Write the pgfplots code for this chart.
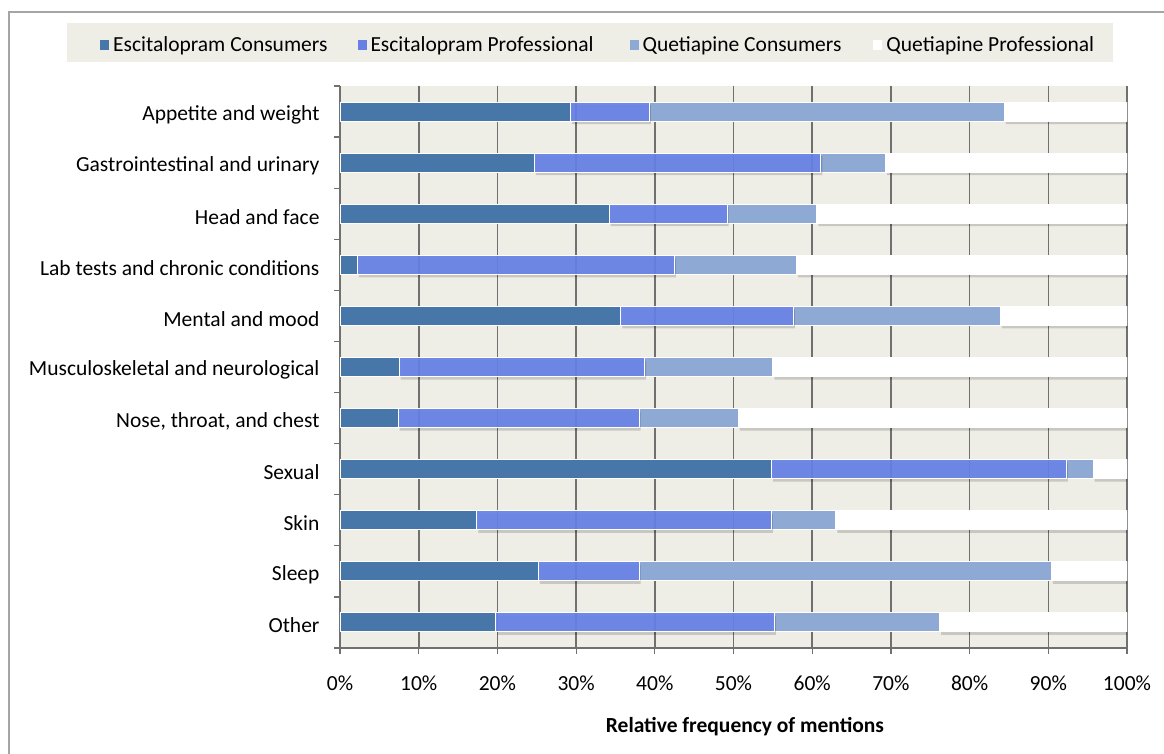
\documentclass[border=0pt]{standalone}
\usepackage{pgfplots}
\usepackage{pgfplotstable}
\pgfplotsset{compat=1.18}
\usepackage{fontspec}
\setmainfont{Carlito}

\definecolor{ecCol}{RGB}{70,119,168}
\definecolor{epCol}{RGB}{102,128,230}
\definecolor{qcCol}{RGB}{142,169,212}
\definecolor{plotbg}{RGB}{239,238,230}
\definecolor{gridCol}{RGB}{112,112,112}
\definecolor{frameCol}{RGB}{165,165,165}

% cumulative boundaries, stored as segment widths (percent)
\pgfplotstableread{
idx ec   ep   qc   qp
0   29.3 10.0 45.1 15.6
1   24.7 36.4 8.2  30.7
2   34.2 15.0 11.4 39.4
3   2.2  40.3 15.5 42.0
4   35.7 21.9 26.3 16.1
5   7.5  31.2 16.3 45.0
6   7.4  30.6 12.6 49.4
7   54.8 37.5 3.4  4.3
8   17.4 37.4 8.2  37.0
9   25.2 12.8 52.4 9.6
10  19.8 35.4 21.0 23.8
}\sidefx

\begin{document}
\begin{tikzpicture}[font=\fontsize{21.5}{25}\selectfont]
\useasboundingbox (0pt,0pt) rectangle (1164pt,754pt);
\fill[white] (0pt,0pt) rectangle (1164pt,754pt);
\draw[frameCol, line width=2pt] (9pt,0pt) -- (9pt,742pt) -- (1170pt,742pt);
\fill[plotbg] (67pt,692pt) rectangle (1113pt,731pt);

\begin{axis}[
    at={(340pt,106pt)}, anchor=south west,
    scale only axis,
    width=787pt, height=562pt,
    xbar stacked,
    bar width=19pt,
    xmin=0, xmax=100,
    ymin=-0.5, ymax=10.5,
    y dir=reverse,
    axis background/.style={fill=plotbg},
    axis x line*=bottom,
    axis y line*=left,
    axis line style={gridCol, line width=1.2pt},
    xtick={0,10,...,100},
    xticklabels={0\%,10\%,20\%,30\%,40\%,50\%,60\%,70\%,80\%,90\%,100\%},
    ytick={0,...,10},
    yticklabels={Appetite and weight, Gastrointestinal and urinary, Head and face,
      Lab tests and chronic conditions, Mental and mood,
      Musculoskeletal and neurological, {Nose, throat, and chest},
      Sexual, Skin, Sleep, Other},
    minor ytick={-0.5,0.5,...,10.5},
    tick align=outside,
    major tick length=6pt,
    minor tick length=6pt,
    x tick style={gridCol, line width=1.2pt},
    ytick style={draw=none},
    minor y tick style={draw=gridCol, line width=1.2pt},
    xmajorgrids=true,
    major grid style={gridCol, line width=1.6pt},
    yticklabel style={xshift=-11pt, yshift=-3pt},
    xticklabel style={yshift=-18pt},
    xlabel={\bfseries Relative frequency of mentions},
    xlabel style={at={(axis description cs:0.5146,-0.1406)}, anchor=center},
    legend columns=4,
    legend style={at={(axis description cs:-0.305,1.0738)}, anchor=west,
      draw=none, fill=none, inner sep=0pt,
      /tikz/every odd column/.append style={column sep=2pt},
      /tikz/column 2/.style={column sep=28pt},
      /tikz/column 4/.style={column sep=34pt},
      /tikz/column 6/.style={column sep=30pt}},
    legend image code/.code={\fill[#1, draw=none] (0pt,-5pt) rectangle (9pt,5pt);},
]
\addlegendimage{fill=ecCol}
\addlegendentry{Escitalopram Consumers}
\addlegendimage{fill=epCol}
\addlegendentry{Escitalopram Professional}
\addlegendimage{fill=qcCol}
\addlegendentry{Quetiapine Consumers}
\addlegendimage{fill=white}
\addlegendentry{Quetiapine Professional}

\addplot[forget plot, fill=ecCol, draw=white, line width=1pt] table[x=ec, y=idx] {\sidefx};
\addplot[forget plot, fill=epCol, fill opacity=0.92, draw=white, line width=1pt,
  preaction={fill=black, fill opacity=0.16, draw=none,
    transform canvas={xshift=1.5pt, yshift=-3pt}}] table[x=ep, y=idx] {\sidefx};
\addplot[forget plot, fill=qcCol, draw=white, line width=1pt] table[x=qc, y=idx] {\sidefx};
\addplot[forget plot, fill=white, draw=white, line width=1pt,
  preaction={fill=black, fill opacity=0.16, draw=none,
    transform canvas={xshift=1.5pt, yshift=-3pt}}] table[x=qp, y=idx] {\sidefx};
\end{axis}
\end{tikzpicture}
\end{document}
